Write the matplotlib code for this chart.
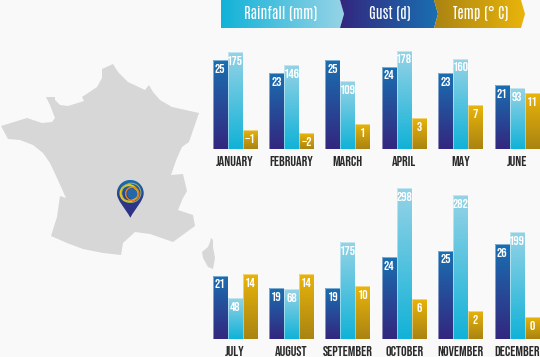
#!/usr/bin/env python3

import numpy as np
import matplotlib
matplotlib.use('Agg')
import matplotlib.pyplot as plt
from matplotlib.colors import LinearSegmentedColormap
from matplotlib.patches import Polygon, Circle, PathPatch
from matplotlib.path import Path

W, H = 540, 357
BG = '#f9f9f9'
FONT = ['Bebas Neue', 'Fjalla One', 'Liberation Sans Narrow', 'DejaVu Sans']
HEAD_FONT = ['Antonio', 'Fjalla One', 'Liberation Sans Narrow', 'DejaVu Sans']

months_top = ['JANUARY', 'FEBRUARY', 'MARCH', 'APRIL', 'MAY', 'JUNE']
months_bottom = ['JULY', 'AUGUST', 'SEPTEMBER', 'OCTOBER', 'NOVEMBER', 'DECEMBER']

gust_top = [25, 23, 25, 24, 23, 21]
rain_top = [175, 146, 109, 178, 160, 93]
temp_top = [-1, -2, 1, 3, 7, 11]

gust_bottom = [21, 19, 19, 24, 25, 26]
rain_bottom = [48, 68, 175, 298, 282, 199]
temp_bottom = [14, 14, 10, 6, 2, 0]

legend_labels = ['Rainfall (mm)', 'Gust (d)', 'Temp (° C)']

# outline, in pixels
france = [(113, 64), (102, 69), (102, 78), (97, 87), (82, 97), (84, 101), (68, 106),
          (60, 105), (55, 100), (55, 97), (46, 97), (50, 105), (55, 118), (52, 122),
          (42, 123), (27, 118), (1, 126), (8, 139), (20, 140), (33, 145), (43, 153),
          (50, 163), (57, 178), (66, 198), (60, 196), (57, 217), (51, 236), (67, 243),
          (83, 249), (103, 253), (121, 255), (123, 243), (135, 232), (150, 234),
          (173, 242), (195, 226), (193, 215), (178, 210), (183, 198), (187, 191),
          (183, 174), (171, 175), (177, 158), (182, 147), (189, 142), (199, 113),
          (172, 107), (160, 100), (153, 92), (149, 85), (145, 90), (128, 82), (118, 72)]
corsica = [(211, 238), (213, 240), (213, 247), (215, 258), (213, 269), (208, 267),
           (203, 258), (202, 252), (208, 247), (210, 242)]

# colours as (top, bottom)
gust_col = ('#1a6fb1', '#33277f')
rain_col = ('#96d3e6', '#12b2d8')
temp_col = ('#e9b40b', '#aa8412')

# value -> pixel height for each series: (value at the axis floor, pixels per unit)
gust_scale = (10.8, 6.25)
rain_scale = (-45.5, 0.44)
temp_scale = (-7.2, 3.07)


def grad(top, bottom):
    return LinearSegmentedColormap.from_list('g', [bottom, top])


def draw_series(fig, base, values, col, scale, slot):
    # one overlaid axes per series since each has its own y scale
    height = 160
    pitch = 56.4
    left = 235 - pitch / 2
    ax = fig.add_axes([left / W, 1 - base / H, pitch * 6 / W, height / H])
    ax.axis('off')
    x = np.arange(6)
    width = 15 / pitch
    offset = (slot - 1) * width
    floor, ppu = scale
    bars = ax.bar(x + offset, np.array(values) - floor, width, bottom=floor,
                  facecolor='none', edgecolor='white', linewidth=0.7, alpha=0.45, zorder=3)
    cmap = grad(*col)
    g = np.linspace(1, 0, 64).reshape(-1, 1)
    for xi, v, b in zip(x, values, bars):
        im = ax.imshow(g, cmap=cmap, aspect='auto', zorder=2,
                       extent=(xi + offset - width / 2, xi + offset + width / 2, floor, v))
        im.set_clip_path(b)
        ax.annotate(str(v).replace('-', '\u2212'), (xi + offset, v), xytext=(0, -6),
                    textcoords='offset points', ha='center', va='center', color='white',
                    fontsize=9.5, family=FONT, zorder=4)
    ax.set_xlim(-0.5, 5.5)
    ax.set_ylim(floor, floor + height / ppu)


def draw_labels(bg, y, months):
    for i, m in enumerate(months):
        bg.text(235 + i * 56.4, y, m, ha='center', va='center', fontsize=10,
                color='#2a2a2a', family=FONT)


def gradient_arrow(bg, pts, left_col, right_col, x0, x1):
    # horizontal gradient clipped to a header arrow
    patch = Polygon(pts, closed=True, facecolor='none', edgecolor='none')
    bg.add_patch(patch)
    g = np.linspace(0, 1, 128).reshape(1, -1)
    cmap = LinearSegmentedColormap.from_list('h', [left_col, right_col])
    im = bg.imshow(g, cmap=cmap, aspect='auto', extent=(x0, x1, 28, 0), zorder=2)
    im.set_clip_path(patch)


def draw_pin(bg):
    cx, cy, r, tip = 130.3, 193.3, 13.4, 217.7
    k = 0.5523 * r
    verts = [(cx, tip), (cx - 5, cy + 15), (cx - r, cy + 7), (cx - r, cy),
             (cx - r, cy - k), (cx - k, cy - r), (cx, cy - r),
             (cx + k, cy - r), (cx + r, cy - k), (cx + r, cy),
             (cx + r, cy + 7), (cx + 5, cy + 15), (cx, tip), (cx, tip)]
    codes = [Path.MOVETO] + [Path.CURVE4] * 12 + [Path.CLOSEPOLY]
    pin = PathPatch(Path(verts, codes), facecolor='none', edgecolor='none')
    bg.add_patch(pin)
    g = np.linspace(0, 1, 64).reshape(-1, 1)
    cmap = LinearSegmentedColormap.from_list('p', ['#1a6fb1', '#2c3a8c', '#2d2f85'])
    im = bg.imshow(g, cmap=cmap, aspect='auto', extent=(cx - r, cx + r, tip, cy - r), zorder=3)
    im.set_clip_path(pin)
    bg.add_patch(Circle((cx - 1.5, cy), 8.2, fill=False, ec='#e9c80f', lw=1.6, zorder=4))
    bg.add_patch(Circle((cx + 1, cy - 0.5), 9.6, fill=False, ec='#9db46a', lw=0.7, zorder=4))
    bg.add_patch(Circle((cx + 2, cy + 0.5), 6.6, fill=False, ec='#e8821e', lw=1.0, zorder=5))
    bg.add_patch(Circle((cx + 2, cy + 0.5), 5.2, fill=True, fc='#2467ac', ec='none', zorder=5))


def main():
    fig = plt.figure(figsize=(W / 100, H / 100), dpi=100, facecolor=BG)

    # background layer in pixel coordinates for map and header
    bg = fig.add_axes([0, 0, 1, 1])
    bg.axis('off')

    bg.add_patch(Polygon(france, closed=True, fc='#d7d7d7', ec='none'))
    bg.add_patch(Polygon(corsica, closed=True, fc='#d7d7d7', ec='none'))
    draw_pin(bg)

    gradient_arrow(bg, [(221, 0), (340, 0), (344, 14), (340, 28), (221, 28)],
                   rain_col[1], rain_col[0], 221, 344)
    gradient_arrow(bg, [(340, 0), (434, 0), (438, 14), (434, 28), (340, 28), (344, 14)],
                   gust_col[1], gust_col[0], 340, 438)
    gradient_arrow(bg, [(434, 0), (521, 0), (525, 14), (521, 28), (434, 28), (438, 14)],
                   temp_col[1], temp_col[0], 434, 525)
    for x, s in zip([281, 390, 481], legend_labels):
        bg.text(x, 13.5, s, ha='center', va='center', color='white', fontsize=10.5,
                fontweight='bold', family=HEAD_FONT, zorder=5)

    draw_labels(bg, 160.5, months_top)
    draw_labels(bg, 351.5, months_bottom)

    bg.set_xlim(0, W)
    bg.set_ylim(H, 0)

    for base, gust, rain, temp in [(149, gust_top, rain_top, temp_top),
                                   (339.3, gust_bottom, rain_bottom, temp_bottom)]:
        draw_series(fig, base, gust, gust_col, gust_scale, 0)
        draw_series(fig, base, rain, rain_col, rain_scale, 1)
        draw_series(fig, base, temp, temp_col, temp_scale, 2)

    fig.savefig('out.png', dpi=100, facecolor=BG)


if __name__ == "__main__":
    main()
